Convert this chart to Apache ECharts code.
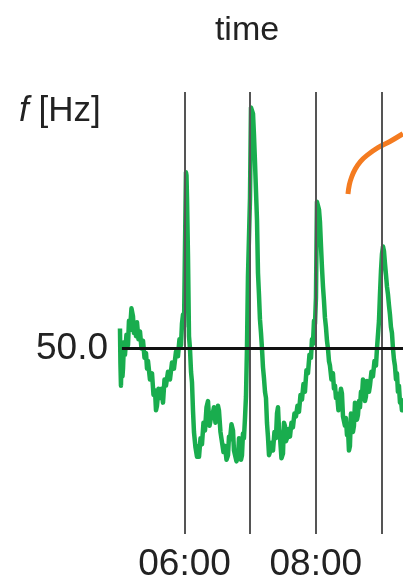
<!DOCTYPE html>
<html>
<head>
<meta charset="utf-8">
<script src="https://cdn.jsdelivr.net/npm/echarts@6/dist/echarts.min.js"></script>
<style>
html,body{margin:0;padding:0;background:#fff;}
#c{width:403px;height:583px;}
</style>
</head>
<body>
<div id="c"></div>
<script>
// grid frequency trace: [time in decimal hours, frequency in Hz]
var trace = [
[5.015,50.013],[5.022,49.990],[5.030,49.976],[5.038,49.995],[5.046,50.001],[5.053,49.982],[5.061,49.987],[5.076,50.004],[5.091,49.996],[5.114,50.009],
[5.137,50.002],[5.152,50.018],[5.168,50.012],[5.190,50.026],[5.213,50.021],[5.228,50.010],[5.244,50.016],[5.259,50.008],[5.274,50.017],[5.297,50.006],
[5.320,50.011],[5.343,50.000],[5.366,50.005],[5.389,49.994],[5.412,49.997],[5.427,49.987],[5.442,49.992],[5.472,49.980],[5.503,49.984],[5.526,49.970],
[5.549,49.973],[5.564,49.960],[5.579,49.963],[5.602,49.974],[5.625,49.968],[5.648,49.974],[5.671,49.965],[5.694,49.980],[5.716,49.976],[5.747,49.985],
[5.777,49.980],[5.808,49.991],[5.838,49.987],[5.869,49.998],[5.899,49.995],[5.922,50.006],[5.945,50.002],[5.960,50.016],[5.976,50.022],[5.991,50.014],
[6.006,50.065],[6.021,50.114],[6.029,50.112],[6.037,50.097],[6.052,50.059],[6.067,50.008],[6.082,50.000],[6.098,49.985],[6.113,49.978],[6.128,49.960],
[6.143,49.946],[6.166,49.936],[6.189,49.930],[6.205,49.937],[6.220,49.930],[6.243,49.942],[6.265,49.938],[6.288,49.952],[6.311,49.947],[6.334,49.962],
[6.357,49.966],[6.380,49.950],[6.402,49.955],[6.425,49.957],[6.448,49.962],[6.471,49.952],[6.494,49.958],[6.509,49.963],[6.524,49.960],[6.547,49.946],
[6.570,49.945],[6.593,49.933],[6.616,49.937],[6.639,49.928],[6.662,49.931],[6.677,49.943],[6.692,49.941],[6.715,49.951],[6.738,49.947],[6.753,49.934],
[6.768,49.933],[6.791,49.927],[6.814,49.930],[6.830,49.942],[6.845,49.938],[6.860,49.928],[6.875,49.931],[6.890,49.945],[6.905,49.942],[6.921,49.955],
[6.936,49.969],[6.951,50.000],[6.966,50.046],[6.982,50.045],[6.997,50.097],[7.012,50.156],[7.028,50.157],[7.043,50.152],[7.058,50.138],[7.073,50.121],
[7.104,50.083],[7.119,50.049],[7.134,50.035],[7.149,50.019],[7.165,50.010],[7.180,50.000],[7.195,49.988],[7.210,49.981],[7.226,49.972],[7.241,49.968],
[7.256,49.952],[7.271,49.943],[7.287,49.931],[7.302,49.933],[7.325,49.939],[7.348,49.934],[7.370,49.946],[7.393,49.942],[7.409,49.958],[7.424,49.962],
[7.439,49.948],[7.454,49.943],[7.477,49.929],[7.500,49.932],[7.515,49.952],[7.530,49.950],[7.545,49.940],[7.561,49.942],[7.584,49.948],[7.607,49.943],
[7.629,49.952],[7.652,49.949],[7.675,49.958],[7.698,49.956],[7.721,49.963],[7.744,49.959],[7.767,49.970],[7.790,49.967],[7.812,49.977],[7.835,49.972],
[7.858,49.986],[7.881,49.984],[7.904,49.996],[7.927,49.994],[7.942,50.006],[7.957,50.003],[7.973,50.018],[7.988,50.016],[8.003,50.033],[8.018,50.095],
[8.033,50.096],[8.049,50.090],[8.064,50.082],[8.080,50.066],[8.095,50.052],[8.110,50.040],[8.125,50.031],[8.140,50.020],[8.155,50.014],[8.171,50.005],
[8.186,50.000],[8.201,49.992],[8.216,49.989],[8.239,49.980],[8.262,49.984],[8.277,49.974],[8.293,49.976],[8.308,49.968],[8.323,49.971],[8.346,49.960],
[8.369,49.961],[8.384,49.974],[8.399,49.971],[8.415,49.956],[8.430,49.957],[8.445,49.950],[8.460,49.955],[8.476,49.944],[8.491,49.948],[8.506,49.934],
[8.521,49.937],[8.537,49.958],[8.552,49.957],[8.567,49.946],[8.582,49.950],[8.598,49.965],[8.613,49.963],[8.628,49.954],[8.643,49.957],[8.659,49.966],
[8.674,49.962],[8.689,49.972],[8.704,49.969],[8.720,49.980],[8.735,49.978],[8.750,49.966],[8.765,49.969],[8.781,49.979],[8.796,49.976],[8.811,49.972],
[8.826,49.976],[8.849,49.985],[8.872,49.982],[8.895,49.992],[8.918,49.989],[8.933,50.000],[8.948,50.001],[8.964,50.018],[8.979,50.035],[8.994,50.050],
[9.009,50.061],[9.025,50.066],[9.040,50.063],[9.055,50.055],[9.070,50.048],[9.086,50.040],[9.101,50.035],[9.116,50.028],[9.131,50.022],[9.146,50.014],
[9.162,50.010],[9.177,50.000],[9.192,49.993],[9.207,49.989],[9.223,49.980],[9.238,49.984],[9.253,49.972],[9.268,49.976],[9.284,49.965],[9.299,49.967],
[9.314,49.960],[9.329,49.966]
];
// orange arc (partial, from neighbouring panel)
var arcTimes = [8.491,8.512,8.547,8.600,8.680,8.780,8.948,9.131,9.329];
var arcFreq = [50.100,50.106,50.111,50.116,50.121,50.125,50.130,50.134,50.139];
var hourLines = [6,7,8,9];
var xLabelValues = [6,8];
var yLabelValues = [50.0];
var nominal = 50.0;
var titleText = 'time';
var yUnitText = '{i|f} [Hz]';

var FONT = '"Liberation Sans", Arial, sans-serif';
function zip(a,b){return a.map(function(v,i){return [v,b[i]];});}

var chart = echarts.init(document.getElementById('c'), null, {renderer:'canvas'});
chart.setOption({
  animation:false,
  backgroundColor:'#fff',
  grid:{left:119, right:0, top:92, bottom:43},
  graphic:[
    {type:'text', x:247, y:31, style:{text:titleText, font:'34px '+FONT, fill:'#222', textAlign:'center', textVerticalAlign:'middle'}}
  ],
  title:[
    {text:yUnitText, left:14, top:89, textStyle:{fontFamily:FONT, fontSize:35, fontWeight:'normal', color:'#222', rich:{i:{fontFamily:FONT, fontSize:35, fontStyle:'italic', color:'#222'}}}}
  ],
  xAxis:{type:'value', min:5, max:9.33,
    axisLine:{show:false}, axisTick:{show:false}, splitLine:{show:false},
    axisLabel:{customValues:xLabelValues, margin:12, fontFamily:FONT, fontSize:37, color:'#222',
      formatter:function(v){return (v<10?'0':'')+Math.round(v)+':00';}}},
  yAxis:{type:'value', min:49.88, max:50.166,
    axisLine:{show:false}, axisTick:{show:false}, splitLine:{show:false},
    axisLabel:{customValues:yLabelValues, margin:11, padding:[13,0,0,0], fontFamily:FONT, fontSize:37, color:'#222',
      formatter:function(v){return v.toFixed(1);}}},
  series:[
    {type:'line', data:[], z:1, silent:true,
      markLine:{silent:true, symbol:['none','none'], label:{show:false}, animation:false,
        lineStyle:{color:'#555', width:2, type:'solid'},
        data:hourLines.map(function(h){return {xAxis:h};}).concat([
          [{coord:[5.045,nominal], lineStyle:{color:'#111', width:3, type:'solid'}},{coord:[9.33,nominal]}]
        ])}},
    {type:'line', data:trace, z:3, showSymbol:false, symbol:'none', sampling:null,
      lineStyle:{color:'#19ad4e', width:4.5, join:'round'}},
    {type:'line', data:zip(arcTimes,arcFreq), z:4, showSymbol:false, symbol:'none', smooth:0.4,
      lineStyle:{color:'#f47b20', width:5, cap:'butt'}}
  ]
});
</script>
</body>
</html>
